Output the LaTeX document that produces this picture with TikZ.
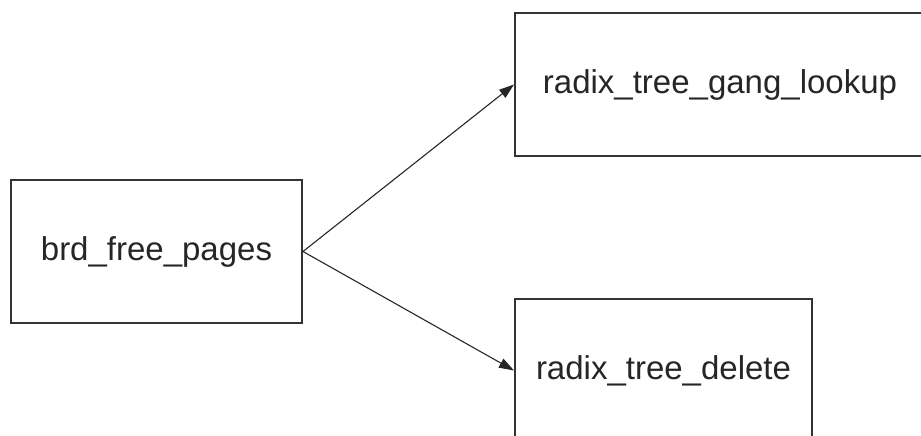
\documentclass[tikz,border=0pt]{standalone}
\usepackage{fontspec}
\setmainfont{Liberation Sans}
\usetikzlibrary{arrows.meta}
\begin{document}
\begin{tikzpicture}[x=1pt,y=-1pt,
  fnbox/.style={draw=black!80, line width=2pt, fill=white, inner sep=0pt,
    font=\fontsize{33}{40}\selectfont, text=black!85},
  call/.style={draw=black!85, line width=1.1pt,
    -{Triangle[length=15pt,width=10pt]}}]
  \useasboundingbox (0,0) rectangle (921,436);
  % caller
  \node[fnbox, minimum width=291pt, minimum height=143pt] (brd) at (156.5,251.5) {brd\_free\_pages};
  % callees
  \node[fnbox, minimum width=410pt, minimum height=143pt] (gang) at (720,84.5) {radix\_tree\_gang\_lookup};
  \node[fnbox, minimum width=297pt, minimum height=143pt] (del) at (663.5,370.5) {radix\_tree\_delete};
  % calls
  \draw[call] (brd.east) -- (gang.west);
  \draw[call] (brd.east) -- (del.west);
\end{tikzpicture}
\end{document}
